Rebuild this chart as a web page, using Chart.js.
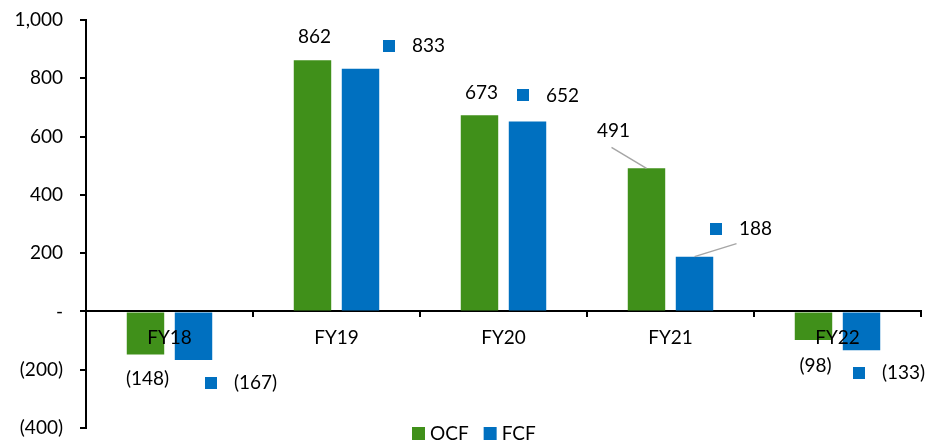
<!DOCTYPE html>
<html>
<head>
<meta charset="utf-8">
<script src="https://cdn.jsdelivr.net/npm/chart.js@4/dist/chart.umd.min.js"></script>
<style>
  html, body { margin: 0; padding: 0; background: #fff; }
  #wrap { width: 935px; height: 444px; }
</style>
</head>
<body>
<div id="wrap"><canvas id="cashChart"></canvas></div>
<script>
// Cash flow by fiscal year
const years = ["FY18", "FY19", "FY20", "FY21", "FY22"];
const ocf = [-148, 862, 673, 491, -98];
const fcf = [-167, 833, 652, 188, -133];
const yTicks = [-400, -200, 0, 200, 400, 600, 800, 1000];

const GREEN = "#40901a";
const BLUE = "#0070c0";
const FONT = "Lato, 'Open Sans', sans-serif";
const FONT_SIZE = 19;

// label placement, relative to the end of each bar (text centre)
const labelShift = [
  [[2, 24], [2, -23], [2, -22], [-33, -37], [2, 26]],
  [[62, 23], [68, -23], [35, -26], [61, -28], [42, 23]],
];
// leader lines for labels that were pulled away from their bar
const leaderFrom = [{ 3: [-2, 16] }, { 3: [-19, 15] }];

function fmt(v) {
  if (v === 0) return "-";
  const s = Math.abs(v).toLocaleString("en-US");
  return v < 0 ? "(" + s + ")" : s;
}

const valueLabels = {
  id: "valueLabels",
  afterDatasetsDraw(chart) {
    const ctx = chart.ctx;
    ctx.save();
    ctx.font = FONT_SIZE + "px " + FONT;
    ctx.textBaseline = "middle";
    chart.data.datasets.forEach((ds, di) => {
      const meta = chart.getDatasetMeta(di);
      meta.data.forEach((bar, i) => {
        const [dx, dy] = labelShift[di][i];
        const x = bar.x + dx;
        const y = bar.y + dy;
        const lead = leaderFrom[di][i];
        if (lead) {
          ctx.strokeStyle = "#a6a6a6";
          ctx.lineWidth = 1.5;
          ctx.beginPath();
          ctx.moveTo(x + lead[0], y + lead[1]);
          ctx.lineTo(bar.x, bar.y);
          ctx.stroke();
        }
        const text = fmt(ds.data[i]);
        const w = ctx.measureText(text).width;
        ctx.fillStyle = "#000";
        ctx.textAlign = "center";
        ctx.fillText(text, x, y);
        if (di === 1) {
          // legend key shown beside the FCF values
          ctx.fillStyle = BLUE;
          ctx.fillRect(Math.round(x - w / 2 - 29), Math.round(y - 6), 12, 12);
        }
      });
    });
    ctx.restore();
  },
};

const bottomLegend = {
  id: "bottomLegend",
  afterDraw(chart) {
    const ctx = chart.ctx;
    ctx.save();
    ctx.font = FONT_SIZE + "px " + FONT;
    ctx.textBaseline = "middle";
    ctx.textAlign = "left";
    const items = chart.data.datasets.map((d) => ({
      label: d.label,
      color: d.backgroundColor,
      w: ctx.measureText(d.label).width,
    }));
    const total = items.reduce((s, it) => s + 13 + 5 + it.w, 0) + 15 * (items.length - 1);
    let x = Math.round(474 - total / 2);
    const y = 433;
    items.forEach((it) => {
      ctx.fillStyle = it.color;
      ctx.fillRect(x, y - 6, 13, 13);
      ctx.fillStyle = "#000";
      ctx.fillText(it.label, x + 18, y + 1);
      x += 18 + it.w + 15;
    });
    ctx.restore();
  },
};

new Chart(document.getElementById("cashChart"), {
  type: "bar",
  data: {
    labels: years,
    datasets: [
      {
        label: "OCF",
        data: ocf,
        backgroundColor: GREEN,
        barPercentage: 0.78,
        categoryPercentage: 0.575,
      },
      {
        label: "FCF",
        data: fcf,
        backgroundColor: BLUE,
        barPercentage: 0.78,
        categoryPercentage: 0.575,
      },
    ],
  },
  options: {
    responsive: true,
    maintainAspectRatio: false,
    animation: false,
    layout: {
      padding: { top: 20, bottom: 16, right: 14, left: 0 },
    },
    plugins: {
      legend: { display: false },
      tooltip: { enabled: false },
    },
    scales: {
      x: {
        position: { y: 0 },
        afterFit(scale) {
          // sits on the zero line, takes no room of its own
          scale.height = 0;
        },
        grid: {
          drawOnChartArea: false,
          drawTicks: true,
          tickLength: 5,
          color: "#000",
          lineWidth: 2,
        },
        border: { display: true, color: "#000", width: 2 },
        ticks: {
          z: 1,
          padding: 10,
          color: "#000",
          font: { family: FONT, size: FONT_SIZE },
        },
      },
      y: {
        min: -400,
        max: 1000,
        afterBuildTicks(scale) {
          scale.ticks = yTicks.map((v) => ({ value: v }));
        },
        afterFit(scale) {
          scale.width = 86;
          // keep the tick padding from pushing the plot inwards
          scale.paddingTop = 10;
          scale.paddingBottom = 10;
        },
        grid: {
          drawOnChartArea: false,
          drawTicks: true,
          tickLength: 6,
          color: "#000",
          lineWidth: 2,
        },
        border: { display: true, color: "#000", width: 2 },
        ticks: {
          padding: 17,
          color: "#000",
          font: { family: FONT, size: FONT_SIZE },
          callback: (v) => fmt(v),
        },
      },
    },
  },
  plugins: [valueLabels, bottomLegend],
});
</script>
</body>
</html>
